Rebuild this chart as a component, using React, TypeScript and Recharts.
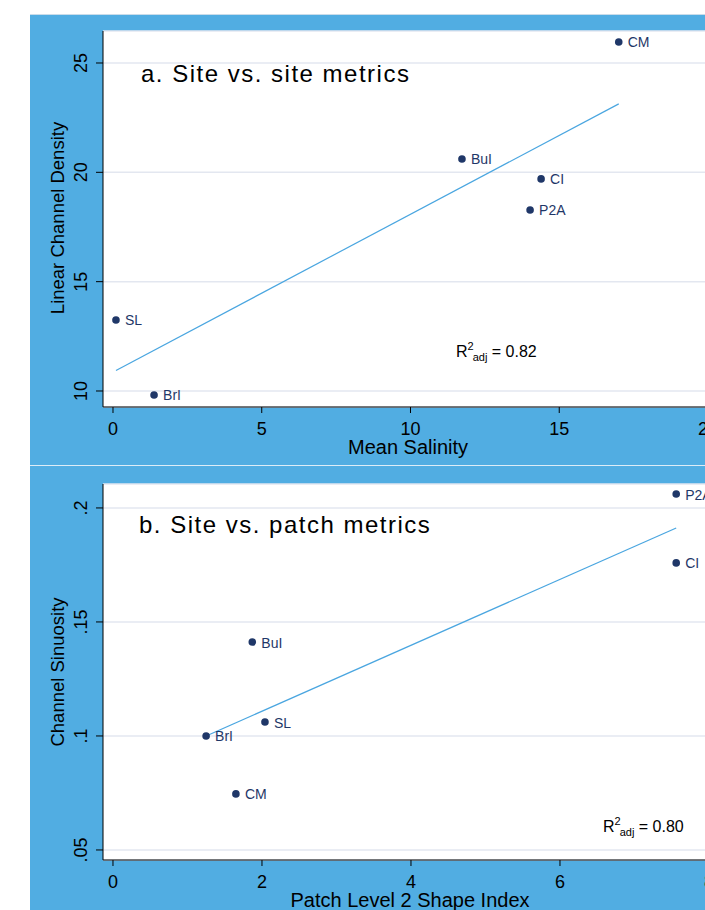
import React from "react";
import { ScatterChart, Scatter, XAxis, YAxis, CartesianGrid } from "recharts";

// panel a: site vs. site metrics
const sitesA = ["CM", "BuI", "CI", "P2A", "SL", "BrI"];
const meanSalinity = [17.0, 11.73, 14.39, 14.02, 0.1, 1.38];
const channelDensity = [25.96, 20.61, 19.7, 18.28, 13.25, 9.82];
const fitSalinity = [0.1, 17.0];
const fitDensity = [10.94, 23.13];
const ticksSalinity = [0, 5, 10, 15, 20];
const ticksDensity = [10, 15, 20, 25];

// panel b: site vs. patch metrics
const sitesB = ["P2A", "CI", "BuI", "SL", "BrI", "CM"];
const shapeIndex = [7.56, 7.56, 1.87, 2.04, 1.25, 1.65];
const sinuosity = [0.2061, 0.1759, 0.1412, 0.1061, 0.1, 0.0746];
const fitShape = [1.25, 7.56];
const fitSinuosity = [0.1, 0.1912];
const ticksShape = [0, 2, 4, 6, 8];
const ticksSinuosity = [0.05, 0.1, 0.15, 0.2];

const blue = "#51ade2";
const navy = "#1f3768";
const fitColor = "#4aa6e0";
const gridColor = "#e3e7f0";

const pointsA = sitesA.map((s, i) => ({ site: s, x: meanSalinity[i], y: channelDensity[i] }));
const lineA = fitSalinity.map((x, i) => ({ x, y: fitDensity[i] }));
const pointsB = sitesB.map((s, i) => ({ site: s, x: shapeIndex[i], y: sinuosity[i] }));
const lineB = fitShape.map((x, i) => ({ x, y: fitSinuosity[i] }));

const LabeledDot = (p: any) => (
  <g>
    <circle cx={p.cx} cy={p.cy} r={3.8} fill={navy} />
    <text x={p.cx + 9} y={p.cy + 5.5} fontSize={14} fill={navy}>
      {p.payload.site}
    </text>
  </g>
);

const YTick = (props: any) => {
  const { x, y, payload, fmt } = props;
  return (
    <text x={x} y={y} transform={`rotate(-90, ${x}, ${y})`} textAnchor="middle" fontSize={18} fill="#000">
      {fmt(payload.value)}
    </text>
  );
};

type PanelProps = {
  points: any[];
  line: any[];
  xDomain: [number, number];
  yDomain: [number, number];
  xTicks: number[];
  yTicks: number[];
  fmt: (v: number) => string;
  height: number;
  top: number;
  marginTop: number;
  xAxisHeight: number;
};

const Panel = (props: PanelProps) => (
  <div style={{ position: "absolute", left: 30, top: props.top }}>
    <ScatterChart
      width={760}
      height={props.height}
      margin={{ top: props.marginTop, right: 20, bottom: 0, left: 0 }}
    >
      <CartesianGrid vertical={false} stroke={gridColor} strokeWidth={1.5} fill="#fff" />
      <XAxis
        type="number"
        dataKey="x"
        domain={props.xDomain}
        ticks={props.xTicks}
        allowDataOverflow
        interval={0}
        height={props.xAxisHeight}
        stroke="#000"
        tickSize={6}
        tickMargin={9}
        tick={{ fontSize: 18, fill: "#000" }}
      />
      <YAxis
        type="number"
        dataKey="y"
        domain={props.yDomain}
        ticks={props.yTicks}
        allowDataOverflow
        interval={0}
        width={73}
        stroke="#000"
        tickSize={7}
        tickMargin={9}
        tick={(p: any) => <YTick {...p} fmt={props.fmt} />}
      />
      <Scatter
        data={props.line}
        line={{ stroke: fitColor, strokeWidth: 1.2 }}
        shape={() => <g />}
        isAnimationActive={false}
      />
      <Scatter data={props.points} shape={LabeledDot} isAnimationActive={false} />
    </ScatterChart>
  </div>
);

const RSq = ({ x, y, value }: { x: number; y: number; value: string }) => (
  <text x={x} y={y} fontSize={16} fill="#000">
    R<tspan fontSize={11} dy={-7}>2</tspan>
    <tspan fontSize={11} dy={11} dx={-1}>adj</tspan>
    <tspan fontSize={16} dy={-4}>{` = ${value}`}</tspan>
  </text>
);

export default function App() {
  return (
    <div
      style={{
        position: "absolute",
        left: 0,
        top: 0,
        width: 705,
        height: 910,
        overflow: "hidden",
        background: "#fff",
        fontFamily: "'Liberation Sans', Arial, sans-serif",
      }}
    >
      <div style={{ position: "absolute", left: 30, top: 14, width: 675, height: 896, background: blue, borderTop: "1px solid #c9dcea" }} />
      <div style={{ position: "absolute", left: 30, top: 465, width: 675, height: 1, background: "#dcecf7" }} />
      <Panel
        points={pointsA}
        line={lineA}
        xDomain={[-0.336, 22.084]}
        yDomain={[9.268, 26.463]}
        xTicks={ticksSalinity}
        yTicks={ticksDensity}
        fmt={(v) => String(v)}
        height={450}
        top={15}
        marginTop={16}
        xAxisHeight={58}
      />
      <Panel
        points={pointsB}
        line={lineB}
        xDomain={[-0.134, 8.819]}
        yDomain={[0.0456, 0.2105]}
        xTicks={ticksShape}
        yTicks={ticksSinuosity}
        fmt={(v) => String(v).replace(/^0/, "")}
        height={444}
        top={466}
        marginTop={18}
        xAxisHeight={50}
      />
      <svg width={705} height={910} style={{ position: "absolute", left: 0, top: 0, pointerEvents: "none" }}>
        <text x={141} y={82} fontSize={24} letterSpacing={1.5} fill="#000">a. Site vs. site metrics</text>
        <text x={139} y={533} fontSize={24} letterSpacing={1.5} fill="#000">b. Site vs. patch metrics</text>
        <RSq x={456} y={357} value="0.82" />
        <RSq x={603} y={832} value="0.80" />
        <text x={408} y={454} fontSize={20} textAnchor="middle" fill="#000">Mean Salinity</text>
        <text x={410} y={907} fontSize={20} textAnchor="middle" fill="#000">Patch Level 2 Shape Index</text>
        <text x={64} y={218} fontSize={18.5} textAnchor="middle" transform="rotate(-90, 64, 218)" fill="#000">Linear Channel Density</text>
        <text x={64} y={672} fontSize={18.5} textAnchor="middle" transform="rotate(-90, 64, 672)" fill="#000">Channel Sinuosity</text>
      </svg>
    </div>
  );
}
